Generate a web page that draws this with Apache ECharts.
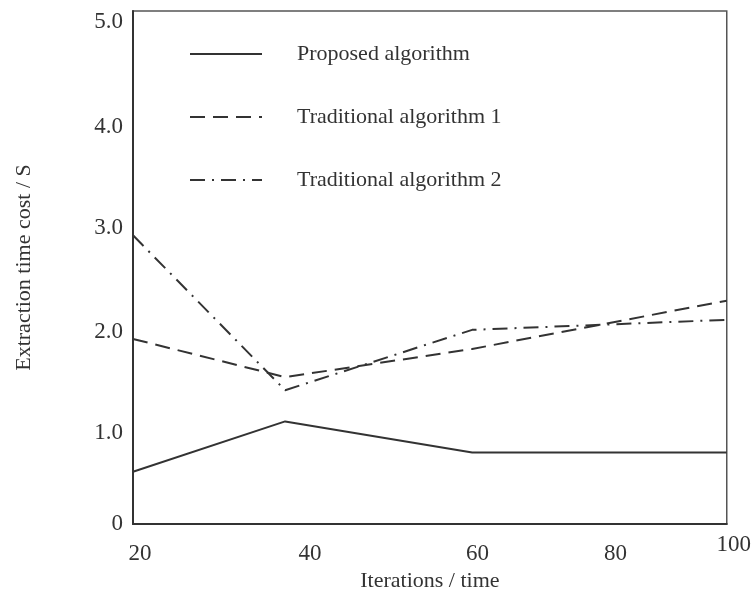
<!DOCTYPE html>
<html>
<head>
<meta charset="utf-8">
<script src="https://cdn.jsdelivr.net/npm/echarts@6/dist/echarts.min.js"></script>
<style>html,body{margin:0;padding:0;background:#fff;overflow:hidden;}#c{width:754px;height:598px;}</style>
</head>
<body>
<div id="c"></div>
<script>
// x positions of the data points on the drawn (linear) iteration axis
const xValues = [20, 40.5, 65.7, 100];
const proposed = [0.52, 1.02, 0.71, 0.71];
const traditional1 = [1.84, 1.46, 1.74, 2.22];
const traditional2 = [2.87, 1.33, 1.93, 2.03];
const seriesNames = ['Proposed algorithm', 'Traditional algorithm 1', 'Traditional algorithm 2'];

// tick labels and where they sit on the axes in the picture
const xTickLabels = ['20', '40', '60', '80'];
const xTickPos = [20.94, 43.85, 66.4, 85.0];
const xLastLabel = '100';
const xLastPos = [100];
const yTickLabels = ['0', '1.0', '2.0', '3.0', '4.0', '5.0'];
const yTickPos = [0, 0.905, 1.91, 2.94, 3.95, 4.99];

const font = '"Liberation Serif", "Times New Roman", serif';
const ink = '#333';

function pairs(ys) { return xValues.map((x, i) => [x, ys[i]]); }
function labelFor(pos, labels, v) {
  let best = 0;
  for (let i = 1; i < pos.length; i++) if (Math.abs(pos[i] - v) < Math.abs(pos[best] - v)) best = i;
  return labels[best];
}

const chart = echarts.init(document.getElementById('c'), null, { renderer: 'canvas' });
chart.setOption({
  animation: false,
  backgroundColor: '#fff',
  grid: { left: 133, right: 22, top: 11, bottom: 74, show: true, borderColor: '#555', borderWidth: 1.5 },
  legend: {
    orient: 'vertical', left: 184, top: 38,
    itemWidth: 72, itemHeight: 14, itemGap: 41,
    itemStyle: { opacity: 0 },
    textStyle: { fontFamily: font, fontSize: 22, color: ink, padding: [0, 0, 0, 30] },
    data: seriesNames
  },
  xAxis: [{
    type: 'value', min: 20, max: 100,
    name: 'Iterations / time', nameLocation: 'middle', nameGap: 43,
    nameTextStyle: { fontFamily: font, fontSize: 22, color: ink },
    axisLine: { show: true, onZero: false, lineStyle: { color: ink, width: 2 } },
    axisTick: { show: false },
    splitLine: { show: false },
    axisLabel: {
      customValues: xTickPos, margin: 18,
      fontFamily: font, fontSize: 23, color: ink,
      formatter: v => labelFor(xTickPos, xTickLabels, v)
    }
  }, {
    type: 'value', min: 20, max: 100, position: 'bottom',
    axisLine: { show: false }, axisTick: { show: false }, splitLine: { show: false },
    axisLabel: {
      customValues: xLastPos, margin: 9,
      fontFamily: font, fontSize: 23, color: ink,
      formatter: () => '{r|' + xLastLabel + '}',
      rich: { r: { fontFamily: font, fontSize: 23, color: ink, padding: [0, 0, 0, 14] } }
    }
  }],
  yAxis: {
    type: 'value', min: 0, max: 5.1,
    name: 'Extraction time cost / S', nameLocation: 'middle', nameGap: 98,
    nameTextStyle: { fontFamily: font, fontSize: 22, color: ink },
    axisLine: { show: true, lineStyle: { color: ink, width: 2 } },
    axisTick: { show: false },
    splitLine: { show: false },
    axisLabel: {
      customValues: yTickPos, margin: 10,
      fontFamily: font, fontSize: 23, color: ink,
      formatter: v => labelFor(yTickPos, yTickLabels, v)
    }
  },
  series: [
    { name: seriesNames[0], type: 'line', data: pairs(proposed), symbol: 'none',
      lineStyle: { color: ink, width: 2, type: 'solid' }, itemStyle: { color: ink } },
    { name: seriesNames[1], type: 'line', data: pairs(traditional1), symbol: 'none',
      lineStyle: { color: ink, width: 2, type: [15, 8] }, itemStyle: { color: ink } },
    { name: seriesNames[2], type: 'line', data: pairs(traditional2), symbol: 'none',
      lineStyle: { color: ink, width: 2, type: [15, 7, 2, 7] }, itemStyle: { color: ink } }
  ]
});
</script>
</body>
</html>
